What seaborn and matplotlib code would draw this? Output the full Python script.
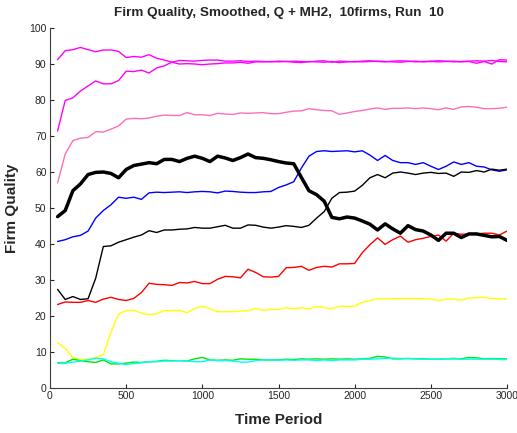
import numpy as np
import pandas as pd
import matplotlib
matplotlib.use("Agg")
import matplotlib.pyplot as plt
import seaborn as sns

# time periods (smoothed samples every 50 periods)
periods = list(range(50, 3001, 50))

magenta_a = [91.2, 93.7, 94.0, 94.6, 94.0, 93.4, 93.9, 93.9, 93.5, 91.8,
             92.1, 91.9, 92.6, 91.6, 91.1, 90.5, 90.0, 90.1, 90.0, 89.8,
             90.0, 90.1, 90.3, 90.3, 90.5, 90.2, 90.6, 90.6, 90.7, 90.6,
             90.7, 90.5, 90.4, 90.7, 90.6, 90.5, 90.7, 90.4, 90.6, 90.7,
             90.6, 90.7, 90.8, 90.7, 90.6, 90.5, 90.7, 90.8, 90.6, 90.7,
             90.6, 90.7, 90.8, 90.6, 90.7, 90.2, 90.7, 90.0, 91.2, 91.1]
magenta_b = [71.4, 79.9, 80.6, 82.5, 83.9, 85.3, 84.5, 84.5, 85.4, 88.0,
             87.9, 88.3, 87.5, 88.9, 89.5, 90.5, 91.0, 90.9, 90.8, 91.0,
             91.1, 91.1, 90.8, 90.8, 90.9, 90.7, 90.8, 90.7, 90.6, 90.8,
             90.7, 90.8, 90.7, 90.6, 90.8, 90.9, 90.5, 90.8, 90.7, 90.6,
             90.8, 90.9, 90.7, 90.6, 90.8, 90.9, 90.8, 90.6, 90.7, 90.8,
             90.9, 90.8, 90.6, 90.7, 90.8, 90.9, 90.8, 91.0, 90.7, 90.6]
pink = [57.0, 65.0, 68.7, 69.4, 69.6, 71.2, 71.1, 71.9, 72.8, 74.7,
        74.9, 74.8, 75.0, 75.5, 75.8, 75.7, 75.7, 76.5, 75.9, 75.9,
        75.7, 76.3, 76.1, 76.0, 76.4, 76.3, 76.4, 76.5, 76.2, 76.2,
        76.6, 76.9, 77.0, 77.6, 77.3, 77.1, 77.0, 76.0, 76.4, 76.8,
        77.1, 77.5, 77.8, 77.4, 77.7, 77.7, 77.8, 77.6, 77.8, 77.6,
        77.3, 77.8, 77.4, 78.1, 78.2, 78.0, 77.6, 77.6, 77.7, 78.0]
black_thick = [47.6, 49.3, 54.8, 56.7, 59.3, 59.9, 60.0, 59.6, 58.4, 60.7,
               61.8, 62.2, 62.6, 62.3, 63.5, 63.5, 62.9, 63.8, 64.4, 63.8,
               62.9, 64.4, 63.9, 63.2, 64.0, 65.0, 64.0, 63.8, 63.4, 62.9,
               62.5, 62.3, 58.5, 54.8, 53.7, 51.9, 47.4, 47.0, 47.5, 47.2,
               46.4, 45.5, 43.9, 45.6, 44.2, 43.0, 45.1, 44.0, 43.6, 42.5,
               41.0, 43.0, 43.0, 41.8, 42.8, 42.8, 42.4, 42.0, 42.1, 41.0]
blue = [40.7, 41.2, 42.0, 42.4, 43.6, 47.2, 49.3, 50.9, 53.0, 52.7,
        53.0, 52.4, 54.2, 54.4, 54.3, 54.4, 54.5, 54.3, 54.5, 54.6,
        54.5, 54.2, 54.7, 54.6, 54.4, 54.3, 54.3, 54.5, 54.6, 55.7,
        56.4, 57.3, 61.1, 64.4, 65.7, 65.9, 65.7, 65.8, 65.9, 65.6,
        65.9, 64.7, 63.2, 64.6, 63.2, 62.6, 62.6, 62.1, 62.6, 61.6,
        60.7, 61.6, 62.8, 62.1, 62.6, 61.6, 61.4, 60.6, 60.2, 60.6]
black_thin = [27.4, 24.6, 25.4, 24.6, 24.8, 30.5, 39.3, 39.5, 40.5, 41.2,
              41.9, 42.5, 43.7, 43.2, 43.9, 43.9, 44.1, 44.2, 44.6, 44.4,
              44.4, 44.8, 45.2, 44.4, 44.4, 45.3, 45.2, 44.7, 44.4, 44.7,
              45.1, 44.9, 44.6, 45.2, 47.2, 49.0, 52.7, 54.3, 54.4, 54.7,
              56.3, 58.4, 59.3, 58.4, 59.7, 60.0, 59.7, 59.3, 59.7, 59.9,
              59.6, 59.7, 58.8, 60.0, 59.9, 60.4, 60.0, 60.8, 60.5, 60.8]
red = [23.2, 23.9, 23.8, 23.8, 24.3, 23.8, 24.7, 25.2, 24.6, 24.3,
       24.9, 26.5, 29.1, 28.8, 28.7, 28.5, 29.3, 29.2, 29.6, 29.0,
       29.0, 30.2, 31.0, 30.9, 30.6, 33.0, 32.1, 30.9, 30.8, 31.0,
       33.4, 33.5, 33.8, 32.7, 33.5, 33.8, 33.6, 34.5, 34.5, 34.6,
       37.6, 39.8, 41.7, 39.9, 41.2, 42.2, 40.5, 41.2, 41.6, 42.1,
       42.5, 40.8, 43.0, 42.7, 42.8, 42.8, 43.0, 43.0, 42.5, 43.6]
yellow = [12.6, 11.0, 8.4, 8.0, 8.0, 8.5, 9.2, 15.6, 20.5, 21.5,
          21.6, 20.8, 20.4, 20.6, 21.5, 21.5, 21.6, 20.9, 22.1, 22.7,
          22.1, 21.2, 21.2, 21.2, 21.4, 21.5, 22.1, 21.6, 21.8, 21.8,
          22.3, 22.0, 22.3, 22.0, 22.7, 22.3, 22.0, 22.7, 22.7, 22.7,
          23.8, 24.3, 24.8, 24.8, 24.8, 24.9, 24.8, 24.9, 24.8, 24.7,
          24.3, 24.7, 24.7, 24.4, 25.0, 25.1, 25.2, 24.9, 24.8, 24.8]
green = [7.0, 7.0, 8.0, 7.6, 7.3, 7.1, 7.8, 6.7, 6.7, 6.9,
         7.2, 7.1, 7.3, 7.4, 7.7, 7.6, 7.6, 7.5, 8.1, 8.5,
         7.8, 7.7, 7.8, 7.7, 8.1, 8.0, 8.0, 7.8, 7.8, 7.8,
         8.0, 7.9, 8.1, 8.0, 8.1, 8.0, 8.1, 8.0, 8.1, 8.0,
         8.1, 8.2, 8.8, 8.6, 8.1, 8.1, 8.2, 8.1, 8.1, 8.0,
         8.0, 8.1, 8.1, 8.1, 8.5, 8.4, 8.1, 8.1, 8.1, 8.1]
cyan = [6.9, 6.9, 7.2, 7.5, 7.8, 8.3, 8.1, 7.3, 6.9, 6.5,
        6.8, 7.0, 7.3, 7.3, 7.5, 7.5, 7.6, 7.5, 7.3, 7.3,
        7.8, 7.6, 7.6, 7.5, 7.2, 7.2, 7.6, 7.8, 7.8, 7.7,
        7.8, 7.7, 7.8, 7.8, 7.6, 7.8, 7.6, 7.8, 7.8, 7.8,
        8.0, 8.0, 8.1, 8.2, 8.3, 8.2, 8.2, 8.1, 8.0, 8.0,
        8.0, 8.1, 8.3, 8.0, 8.0, 8.0, 8.0, 8.0, 7.9, 7.9]

# (values, colour, line width)
firms = [
    (magenta_a, "#ff00ff", 1.0),
    (magenta_b, "#ff00ff", 1.0),
    (pink, "#ff6eb4", 1.0),
    (blue, "#0000ff", 1.0),
    (black_thin, "#000000", 1.0),
    (red, "#ff0000", 1.0),
    (yellow, "#ffff00", 1.0),
    (green, "#00e600", 1.0),
    (cyan, "#00ffff", 1.0),
    (black_thick, "#000000", 2.5),
]

sns.set_style("ticks")
plt.rcParams['font.family'] = ['Liberation Sans', 'DejaVu Sans']

fig = plt.figure(figsize=(5.17, 4.33), dpi=100)
ax = fig.add_axes([0.0967, 0.1039, 0.884, 0.8314])

for vals, col, lw in firms:
    df = pd.DataFrame({"period": periods, "quality": vals})
    sns.lineplot(data=df, x="period", y="quality", color=col, linewidth=lw, ax=ax)

ax.set_xlim(0, 3000)
ax.set_ylim(0, 100)
ax.set_xticks(range(0, 3001, 500))
ax.set_yticks(range(0, 101, 10))
ax.tick_params(direction="in", length=3, labelsize=7.5, colors="#262626", pad=2.5)
for side in ["left", "bottom"]:
    ax.spines[side].set_color("#404040")
sns.despine(ax=ax)

ax.set_title("Firm Quality, Smoothed, Q + MH2,  10firms, Run  10",
             fontsize=9.7, fontweight="bold", pad=9)
ax.set_xlabel("Time Period", fontsize=11, fontweight="bold", labelpad=8)
ax.set_ylabel("Firm Quality", fontsize=11, fontweight="bold", labelpad=7)

fig.savefig("out.png", dpi=100)
